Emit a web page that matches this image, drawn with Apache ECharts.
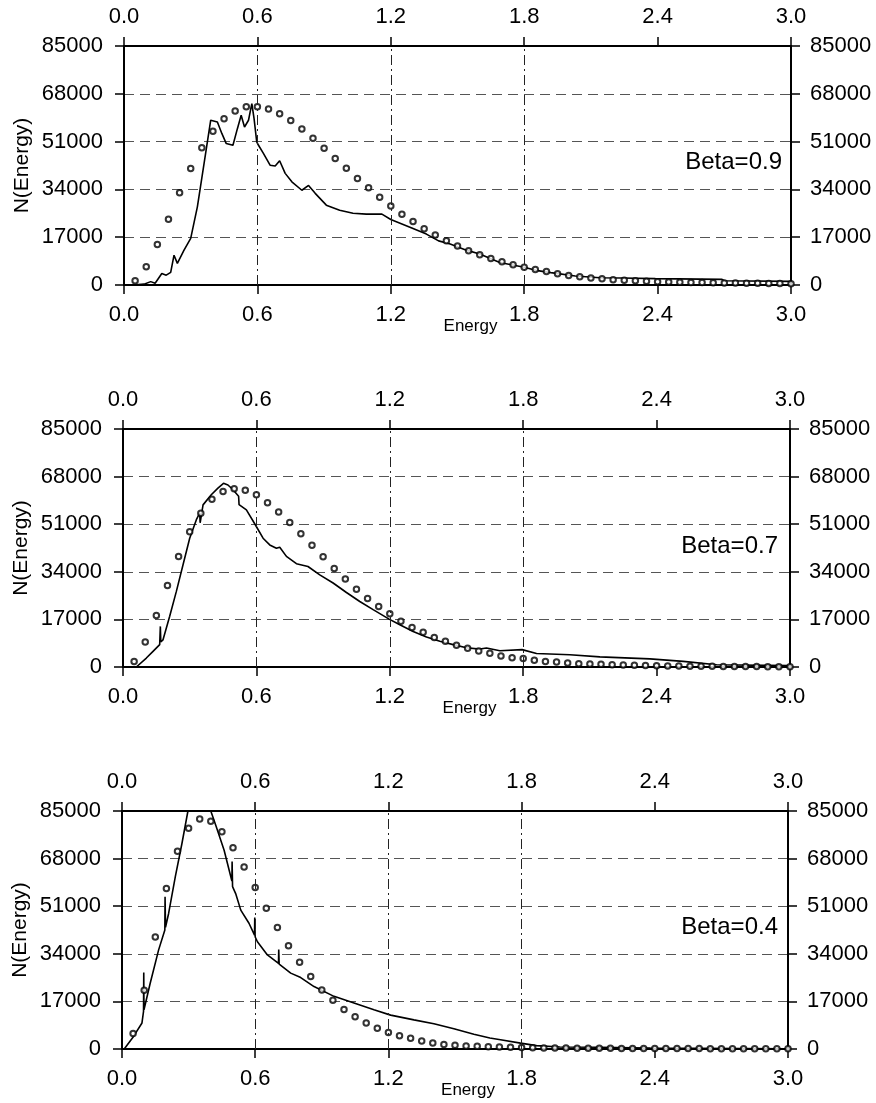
<!DOCTYPE html>
<html>
<head>
<meta charset="utf-8">
<script src="https://cdn.jsdelivr.net/npm/echarts@6/dist/echarts.min.js"></script>
<style>html,body{margin:0;padding:0;background:#fff}#c{width:876px;height:1103px}</style>
</head>
<body>
<div id="c"></div>
<script>
// ---------- data ----------
const panelLabels = ['Beta=0.9', 'Beta=0.7', 'Beta=0.4'];
const vGridX = [0.6, 1.2, 1.8];

const sim09 = [[0.04,0],[0.09,300],[0.12,1200],[0.14,600],[0.17,4100],[0.19,3500],[0.21,4500],[0.225,10600],[0.24,7700],[0.27,12400],[0.30,16600],[0.33,27800],[0.36,43200],[0.39,58600],[0.42,58000],[0.44,53900],[0.46,50300],[0.49,49700],[0.51,55600],[0.527,60400],[0.542,56200],[0.56,58600],[0.575,64500],[0.585,59200],[0.597,50900],[0.605,49700],[0.627,46800],[0.657,42600],[0.68,42300],[0.70,44200],[0.725,39700],[0.755,36700],[0.80,33700],[0.83,35400],[0.86,32600],[0.91,28400],[0.97,26600],[1.03,25500],[1.09,25200],[1.16,25200],[1.20,23300],[1.30,20100],[1.36,18100],[1.415,15700],[1.467,14600],[1.54,12400],[1.60,11000],[1.69,8000],[1.80,6300],[1.86,5100],[1.92,4400],[2.03,3200],[2.14,2600],[2.24,2500],[2.39,2250],[2.69,2000],[2.70,1500],[3.0,1300]];
const theory09 = [[0.05,1500],[0.10,6500],[0.15,14400],[0.20,23400],[0.25,32800],[0.30,41400],[0.35,48800],[0.40,54700],[0.45,59100],[0.50,61900],[0.55,63400],[0.60,63400],[0.65,62600],[0.70,60900],[0.75,58500],[0.80,55500],[0.85,52200],[0.90,48600],[0.95,45000],[1.00,41500],[1.05,37900],[1.10,34600],[1.15,31200],[1.20,28100],[1.25,25200],[1.30,22600],[1.35,20000],[1.40,17800],[1.45,15700],[1.50,13900],[1.55,12200],[1.60,10800],[1.65,9400],[1.70,8300],[1.75,7200],[1.80,6300],[1.85,5500],[1.90,4800],[1.95,4000],[2.00,3400],[2.05,2900],[2.10,2500],[2.15,2200],[2.20,1900],[2.25,1700],[2.30,1500],[2.35,1350],[2.40,1200],[2.45,1100],[2.50,1000],[2.55,900],[2.60,850],[2.65,800],[2.70,750],[2.75,700],[2.80,650],[2.85,600],[2.90,550],[2.95,500],[3.00,450]];

const sim07 = [[0.06,0],[0.105,3200],[0.135,5600],[0.165,8000],[0.168,14500],[0.17,9000],[0.18,9700],[0.21,18100],[0.24,27000],[0.27,36500],[0.30,46000],[0.33,52600],[0.345,55000],[0.347,51500],[0.36,57900],[0.397,61500],[0.427,63900],[0.452,65600],[0.472,65000],[0.495,63300],[0.52,61000],[0.522,58000],[0.555,56100],[0.595,50800],[0.63,46000],[0.66,43600],[0.69,42400],[0.705,42800],[0.735,39500],[0.78,36900],[0.832,35900],[0.885,32900],[0.945,30000],[1.005,26600],[1.065,23400],[1.125,20500],[1.197,17100],[1.245,15100],[1.305,12700],[1.365,10700],[1.425,9200],[1.485,8000],[1.545,6900],[1.605,6400],[1.635,6800],[1.695,5800],[1.795,6200],[1.86,4800],[2.01,4400],[2.145,3600],[2.37,2900],[2.52,2000],[2.67,830],[3.0,480]];
const theory07 = [[0.05,2000],[0.10,8900],[0.15,18400],[0.20,29100],[0.25,39500],[0.30,48300],[0.35,54900],[0.40,59900],[0.45,62700],[0.50,63700],[0.55,63100],[0.60,61500],[0.65,58700],[0.70,55400],[0.75,51600],[0.80,47600],[0.85,43500],[0.90,39400],[0.95,35200],[1.00,31400],[1.05,27800],[1.10,24500],[1.15,21600],[1.20,19000],[1.25,16300],[1.30,14100],[1.35,12400],[1.40,10500],[1.45,9200],[1.50,7800],[1.55,6700],[1.60,5700],[1.65,4900],[1.70,3900],[1.75,3300],[1.80,3000],[1.85,2400],[1.90,2000],[1.95,1800],[2.00,1400],[2.05,1200],[2.10,1070],[2.15,950],[2.20,830],[2.25,710],[2.30,600],[2.35,500],[2.40,450],[2.45,400],[2.50,350],[2.55,300],[2.60,270],[2.65,240],[2.70,210],[2.75,190],[2.80,170],[2.85,150],[2.90,130],[2.95,120],[3.00,100]];

const sim04 = [[0.01,0],[0.052,4500],[0.09,9300],[0.097,13400],[0.098,27300],[0.099,14000],[0.127,23500],[0.165,35400],[0.193,42500],[0.194,54400],[0.196,43500],[0.21,48400],[0.24,61500],[0.27,73400],[0.297,85000],[0.40,85000],[0.425,79300],[0.46,71000],[0.495,60000],[0.496,67000],[0.498,58000],[0.512,55500],[0.535,49600],[0.572,44900],[0.597,40700],[0.598,47000],[0.600,40000],[0.61,38300],[0.655,33600],[0.705,30600],[0.706,35500],[0.708,30300],[0.76,27100],[0.805,25500],[0.865,22300],[0.955,18800],[1.045,16400],[1.135,14000],[1.21,12100],[1.315,10400],[1.405,9000],[1.495,7200],[1.585,5300],[1.657,3900],[1.705,3300],[1.795,2100],[1.867,1200],[1.972,700],[2.15,600],[2.38,350],[3.0,100]];
const theory04 = [[0.05,5500],[0.10,21000],[0.15,40000],[0.20,57300],[0.25,70600],[0.30,78800],[0.35,82100],[0.40,81300],[0.45,77600],[0.50,71900],[0.55,65000],[0.60,57700],[0.65,50300],[0.70,43400],[0.75,36900],[0.80,31000],[0.85,25900],[0.90,21100],[0.95,17400],[1.00,14100],[1.05,11500],[1.10,9300],[1.15,7400],[1.20,5900],[1.25,4750],[1.30,3800],[1.35,2850],[1.40,2150],[1.45,1650],[1.50,1300],[1.55,1070],[1.60,950],[1.65,830],[1.70,710],[1.75,600],[1.80,520],[1.85,450],[1.90,400],[1.95,360],[2.00,330],[2.05,300],[2.10,280],[2.15,260],[2.20,240],[2.25,220],[2.30,200],[2.35,190],[2.40,180],[2.45,170],[2.50,160],[2.55,150],[2.60,140],[2.65,130],[2.70,120],[2.75,110],[2.80,100],[2.85,100],[2.90,90],[2.95,90],[3.00,80]];

const simSeries = [sim09, sim07, sim04];
const theorySeries = [theory09, theory07, theory04];

// ---------- chart ----------
const FONT = 'Liberation Sans, Arial, Helvetica, sans-serif';
const grids = [
  {left:124, top:46, width:667, height:239},
  {left:123, top:429, width:667, height:238},
  {left:122, top:811, width:666, height:238}
];
const betaPos = [{right:94, top:150},{right:98, top:534},{right:98, top:915}];

const xAxes = [], yAxes = [], series = [], titles = [];
grids.forEach((g, i) => {
  const xBase = {
    type:'value', gridIndex:i, min:0, max:3, interval:0.6,
    axisLine:{show:true, onZero:false, lineStyle:{color:'#000', width:2}},
    axisTick:{show:true, inside:false, length:9, lineStyle:{color:'#000', width:1.5}},
    axisLabel:{color:'#000', fontSize:22, fontFamily:FONT, formatter:v => v.toFixed(1)},
    splitLine:{show:false}
  };
  xAxes.push(Object.assign({}, xBase, {
    position:'bottom',
    axisLabel:Object.assign({}, xBase.axisLabel, {margin:19}),
    name:'Energy', nameLocation:'middle', nameGap:33, nameMoveOverlap:false,
    nameTextStyle:{color:'#000', fontSize:17, fontFamily:FONT, padding:[0,0,0,26]}
  }));
  xAxes.push(Object.assign({}, xBase, {
    position:'top',
    axisLabel:Object.assign({}, xBase.axisLabel, {margin:18})
  }));
  const yBase = {
    type:'value', gridIndex:i, min:0, max:85000, interval:17000,
    axisLine:{show:true, onZero:false, lineStyle:{color:'#000', width:2}},
    axisTick:{show:true, inside:false, length:9, lineStyle:{color:'#000', width:1.5}},
    axisLabel:{color:'#000', fontSize:22, fontFamily:FONT, formatter:v => String(v)}
  };
  yAxes.push(Object.assign({}, yBase, {
    position:'left',
    axisLabel:Object.assign({}, yBase.axisLabel, {margin:21}),
    splitLine:{show:true, lineStyle:{color:'#555', width:1, type:[10,6]}},
    name:'N(Energy)', nameLocation:'middle', nameGap:91, nameRotate:90, nameMoveOverlap:false,
    nameTextStyle:{color:'#000', fontSize:21, fontFamily:FONT}
  }));
  yAxes.push(Object.assign({}, yBase, {
    position:'right',
    axisLabel:Object.assign({}, yBase.axisLabel, {margin:19}),
    splitLine:{show:false}
  }));
  series.push({
    type:'line', xAxisIndex:2*i, yAxisIndex:2*i, data:simSeries[i],
    showSymbol:false, symbol:'none', smooth:false,
    lineStyle:{color:'#000', width:1.6}, z:3,
    markLine:{
      silent:true, symbol:['none','none'], label:{show:false},
      lineStyle:{color:'#222', width:1, type:[10,4,2,4]},
      data:vGridX.map(x => ({xAxis:x}))
    }
  });
  series.push({
    type:'scatter', xAxisIndex:2*i, yAxisIndex:2*i, data:theorySeries[i],
    symbol:'emptyCircle', symbolSize:5.5,
    itemStyle:{color:'#000', borderColor:'#000', borderWidth:0.9}, z:4
  });
  titles.push({
    text:panelLabels[i], right:betaPos[i].right, top:betaPos[i].top, padding:0,
    textStyle:{color:'#000', fontSize:24, fontWeight:'normal', fontFamily:FONT}
  });
});

const chart = echarts.init(document.getElementById('c'), null, {renderer:'canvas'});
chart.setOption({
  animation:false,
  backgroundColor:'#fff',
  title:titles,
  grid:grids.map(g => Object.assign({containLabel:false, outerBoundsMode:'none'}, g)),
  xAxis:xAxes,
  yAxis:yAxes,
  series:series
});
</script>
</body>
</html>
